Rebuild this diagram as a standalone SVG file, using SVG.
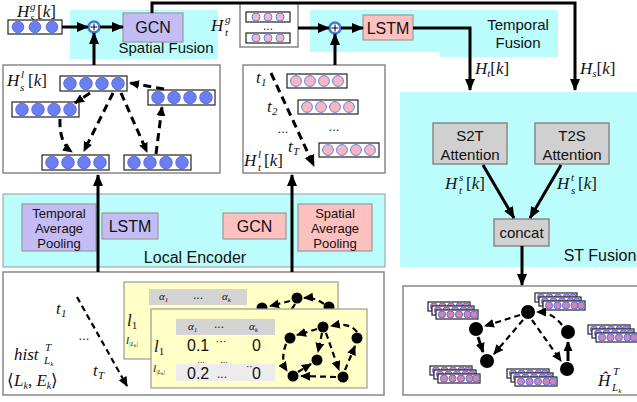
<svg xmlns="http://www.w3.org/2000/svg" xmlns:xlink="http://www.w3.org/1999/xlink" width="637" height="402" viewBox="0 0 637 402">
<style>
.sans{font-family:"Liberation Sans",Arial,sans-serif;fill:#111}
.m{font-family:"Liberation Serif","Times New Roman",serif;font-style:italic;font-size:17px;fill:#111}
.ms{font-family:"Liberation Serif","Times New Roman",serif;font-style:italic;font-size:11px;fill:#111}
.up{font-style:normal}
.frame{fill:#fff;stroke:#888;stroke-width:1.5}
.cyan{fill:#bbfdfd}
.blue{fill:#c4bcf4;stroke:#999;stroke-width:1.2}
.pink{fill:#ffc0c0;stroke:#999;stroke-width:1.2}
.gray{fill:#d0d0d0;stroke:#888;stroke-width:1.5}
.yel{fill:#ffffc6;stroke:#999;stroke-width:1.2}
.conn{fill:none;stroke:#000;stroke-width:3}
.dash{fill:none;stroke:#000;stroke-width:3;stroke-dasharray:8 5}
.dash2{fill:none;stroke:#000;stroke-width:2.2;stroke-dasharray:6 4}
.vr{fill:#fff;stroke:#222;stroke-width:1.2}
.bc{fill:#6b7ff0;stroke:#4a62d8;stroke-width:0.8}
.pc{fill:#f7b6c2;stroke:#5a86e6;stroke-width:1}
.mc{fill:#cf86b4;stroke:#5a6fe0;stroke-width:1}
</style>
<defs>
<marker id="ah" markerUnits="userSpaceOnUse" markerWidth="12" markerHeight="10" refX="11" refY="5" orient="auto"><path d="M0,0 L12,5 L0,10 z" fill="#000"/></marker>
<marker id="ahs" markerUnits="userSpaceOnUse" markerWidth="10" markerHeight="9" refX="9" refY="4.5" orient="auto"><path d="M0,0 L10,4.5 L0,9 z" fill="#000"/></marker>
<g id="bv4"><rect class="vr" x="0" y="0" width="67" height="15"/><circle class="bc" cx="10" cy="7.5" r="6.3"/><circle class="bc" cx="26" cy="7.5" r="6.3"/><circle class="bc" cx="42" cy="7.5" r="6.3"/><circle class="bc" cx="58" cy="7.5" r="6.3"/></g>
<g id="pv4"><rect class="vr" x="0" y="0" width="60" height="14"/><circle class="pc" cx="9" cy="7" r="5.4"/><circle class="pc" cx="23" cy="7" r="5.4"/><circle class="pc" cx="37" cy="7" r="5.4"/><circle class="pc" cx="51" cy="7" r="5.4"/></g>
<g id="pv3"><rect class="vr" x="0" y="0" width="44" height="10"/><circle class="pc" cx="10" cy="5" r="4"/><circle class="pc" cx="22" cy="5" r="4"/><circle class="pc" cx="34" cy="5" r="4"/></g>
<g id="sv"><rect class="vr" x="0" y="0" width="42" height="9"/><circle class="mc" cx="6" cy="4.5" r="3.6"/><circle class="mc" cx="14.5" cy="4.5" r="3.6"/><circle class="mc" cx="23" cy="4.5" r="3.6"/><circle class="mc" cx="31.5" cy="4.5" r="3.6"/><circle class="mc" cx="38" cy="4.5" r="3.6"/></g>
<g id="stk"><use xlink:href="#sv"/><use xlink:href="#sv" x="4" y="4"/><use xlink:href="#sv" x="8" y="8"/></g>
</defs>

<!-- regions -->
<g id="spatial-fusion"><rect class="cyan" x="70" y="10" width="148" height="49"/><text class="sans" x="166" y="53" font-size="15" text-anchor="middle">Spatial Fusion</text></g>
<g id="temporal-fusion"><rect class="cyan" x="310" y="10" width="248" height="42"/><rect class="cyan" x="440" y="10" width="118" height="47"/><text class="sans" x="518" y="30" font-size="15" text-anchor="middle">Temporal</text><text class="sans" x="518" y="48" font-size="15" text-anchor="middle">Fusion</text></g>
<g id="st-fusion"><rect class="cyan" x="400" y="92" width="237" height="175"/><text class="sans" x="600" y="261" font-size="16" text-anchor="middle">ST Fusion</text></g>
<g id="local-encoder"><rect x="3" y="194" width="382" height="73" fill="#bbfdfd" stroke="#999" stroke-width="1"/><text class="sans" x="195" y="263" font-size="16" text-anchor="middle">Local Encoder</text></g>

<!-- top-left input -->
<g id="hsg">
<text class="m" x="17" y="17">H</text><text class="ms" x="30" y="10">g</text><text class="ms" x="30" y="21">s</text><text class="m" x="37" y="17"><tspan class="up">[</tspan>k<tspan class="up">]</tspan></text>
<rect class="vr" x="8" y="20" width="54" height="14"/><circle class="bc" cx="18" cy="27" r="5.8"/><circle class="bc" cx="35" cy="27" r="5.8"/><circle class="bc" cx="52" cy="27" r="5.8"/>
</g>
<g id="plus1"><circle cx="94" cy="27" r="5.5" fill="#fff" stroke="#3c7ce0" stroke-width="2.5"/><path d="M90.5,27 H97.5 M94,23.5 V30.5" stroke="#000" stroke-width="1"/></g>
<g id="gcn-top"><rect class="blue" x="123" y="13" width="60" height="29"/><text class="sans" x="153" y="33" font-size="16" text-anchor="middle">GCN</text></g>

<g id="htg">
<text class="m" x="211" y="31">H</text><text class="ms" x="225" y="23">g</text><text class="ms" x="225" y="36">t</text>
<rect class="frame" x="240" y="3" width="58" height="44"/>
<use xlink:href="#pv3" x="246" y="12"/><text class="sans" x="268" y="30" font-size="12" text-anchor="middle">...</text><use xlink:href="#pv3" x="246" y="33"/>
</g>
<g id="plus2"><circle cx="335" cy="28" r="5.5" fill="#fff" stroke="#3c7ce0" stroke-width="2.5"/><path d="M331.5,28 H338.5 M335,24.5 V31.5" stroke="#000" stroke-width="1"/></g>
<g id="lstm-top"><rect class="pink" x="363" y="15" width="50" height="25"/><text class="sans" x="388" y="34" font-size="16" text-anchor="middle">LSTM</text></g>

<!-- spatial local box -->
<g id="hsl-box">
<rect class="frame" x="3" y="65" width="217" height="108"/>
<text class="m" x="7" y="86">H</text><text class="ms" x="21" y="78">l</text><text class="ms" x="20" y="91">s</text><text class="m" x="28" y="86"><tspan class="up">[</tspan>k<tspan class="up">]</tspan></text>
<use xlink:href="#bv4" x="60" y="76"/>
<use xlink:href="#bv4" x="12" y="102"/>
<use xlink:href="#bv4" x="148" y="90"/>
<use xlink:href="#bv4" x="42" y="155"/>
<use xlink:href="#bv4" x="124" y="155"/>
<path class="dash" d="M164,89 L130,83" marker-end="url(#ahs)"/>
<path class="dash" d="M90,93 L75,103" marker-end="url(#ahs)"/>
<path class="dash" d="M60,119 Q59,143 72,152" marker-end="url(#ahs)"/>
<path class="dash" d="M113,93 L84,151" marker-end="url(#ahs)"/>
<path class="dash" d="M121,93 L147,152" marker-end="url(#ahs)"/>
<path class="dash" d="M156,154 L162,107" marker-end="url(#ahs)"/>
</g>

<!-- temporal local box -->
<g id="htl-box">
<rect class="frame" x="243" y="65" width="142" height="108"/>
<text class="m" x="256" y="83">t</text><text class="ms" x="261" y="86">1</text>
<text class="m" x="267" y="112">t</text><text class="ms" x="272" y="115">2</text>
<text class="sans" x="283" y="133" font-size="13" text-anchor="middle">...</text>
<text class="sans" x="334" y="131" font-size="13" text-anchor="middle">...</text>
<text class="m" x="288" y="152">t</text><text class="ms" x="293" y="155">T</text>
<use xlink:href="#pv4" x="287" y="74"/>
<use xlink:href="#pv4" x="298" y="100"/>
<use xlink:href="#pv4" x="319" y="143"/>
<path class="dash" d="M271,73 L314,166" marker-end="url(#ah)"/>
<text class="m" x="244" y="166">H</text><text class="ms" x="258" y="158">l</text><text class="ms" x="258" y="171">t</text><text class="m" x="264" y="166"><tspan class="up">[</tspan>k<tspan class="up">]</tspan></text>
</g>

<!-- local encoder components -->
<g id="tap"><rect class="blue" x="22" y="204" width="74" height="47"/><text class="sans" font-size="13" text-anchor="middle"><tspan x="59" y="218">Temporal</tspan><tspan x="59" y="233">Average</tspan><tspan x="59" y="248">Pooling</tspan></text></g>
<g id="lstm-enc"><rect class="blue" x="102" y="213" width="56" height="26"/><text class="sans" x="130" y="232" font-size="16" text-anchor="middle">LSTM</text></g>
<g id="gcn-enc"><rect class="pink" x="223" y="213" width="63" height="26"/><text class="sans" x="254.5" y="232" font-size="16" text-anchor="middle">GCN</text></g>
<g id="sap"><rect class="pink" x="298" y="204" width="74" height="47"/><text class="sans" font-size="13" text-anchor="middle"><tspan x="335" y="218">Spatial</tspan><tspan x="335" y="233">Average</tspan><tspan x="335" y="248">Pooling</tspan></text></g>

<!-- bottom input -->
<g id="hist-box">
<rect class="frame" x="3" y="272" width="381" height="123"/>
<text class="m" x="56" y="314">t</text><text class="ms" x="61" y="317">1</text>
<text class="sans" x="84" y="340" font-size="13" text-anchor="middle">...</text>
<text class="m" x="93" y="376">t</text><text class="ms" x="98" y="379">T</text>
<path class="dash2" d="M77,297 L127,386" marker-end="url(#ahs)"/>
<text class="m" x="14" y="360">hist</text><text class="ms" x="45" y="351">T</text><text class="ms" x="44" y="364">L<tspan font-size="7" dy="2">k</tspan></text>
<text class="m" x="7" y="386"><tspan class="up">⟨</tspan>L<tspan font-size="10" dy="3">k</tspan><tspan dy="-3" class="up">,</tspan> E<tspan font-size="10" dy="3">k</tspan><tspan dy="-3" class="up">⟩</tspan></text>
</g>
<g id="card-back">
<rect class="yel" x="124" y="282" width="214" height="77"/>
<rect x="149" y="289" width="98" height="16" fill="#d4d4d4"/>
<text class="ms" x="159" y="300" font-size="10">α<tspan font-size="7" dy="2">1</tspan></text>
<text class="sans" x="198" y="299" font-size="12" text-anchor="middle">...</text>
<text class="ms" x="222" y="300" font-size="10">α<tspan font-size="7" dy="2">k</tspan></text>
<text class="m" x="127" y="326" font-size="18">l<tspan font-size="11" dy="3" class="up">1</tspan></text>
<text class="ms" x="126" y="344" font-size="9">l<tspan font-size="6" dy="2">|L</tspan><tspan font-size="5" dy="1">k</tspan><tspan font-size="6" dy="-1">|</tspan></text>
<path class="dash2" d="M290,301 L270,306" marker-end="url(#ahs)"/>
<path class="dash2" d="M324,304 Q315,297 304,298" marker-end="url(#ahs)"/>
<path class="dash2" d="M295,304 L290,312"/>
<circle cx="297" cy="298" r="5.5"/><circle cx="262" cy="308" r="5.5"/><circle cx="329" cy="307" r="5.5"/>
</g>
<g id="card-front">
<rect class="yel" x="151" y="309" width="216" height="79"/>
<rect x="176" y="319" width="99" height="16" fill="#d4d4d4"/>
<rect x="176" y="364" width="99" height="17" fill="#ececec"/>
<text class="ms" x="188" y="330" font-size="10">α<tspan font-size="7" dy="2">1</tspan></text>
<text class="sans" x="219" y="328" font-size="12" text-anchor="middle">...</text>
<text class="ms" x="249" y="330" font-size="10">α<tspan font-size="7" dy="2">k</tspan></text>
<text class="m" x="154" y="352" font-size="18">l<tspan font-size="11" dy="3" class="up">1</tspan></text>
<text class="sans" x="187" y="351" font-size="16">0.1</text>
<text class="sans" x="221" y="345" font-size="11" text-anchor="middle">···</text>
<text class="sans" x="252" y="351" font-size="16">0</text>
<text class="sans" x="201" y="363" font-size="9" text-anchor="middle">...</text>
<text class="sans" x="224" y="363" font-size="9" text-anchor="middle">...</text>
<text class="ms" x="153" y="372" font-size="9">l<tspan font-size="6" dy="2">|L</tspan><tspan font-size="5" dy="1">k</tspan><tspan font-size="6" dy="-1">|</tspan></text>
<text class="sans" x="187" y="379" font-size="16">0.2</text>
<text class="sans" x="222" y="378" font-size="12" text-anchor="middle">...</text>
<text class="sans" x="246" y="370" font-size="10">··</text>
<text class="sans" x="252" y="379" font-size="16">0</text>
<path class="dash2" d="M317,329 L297,335" marker-end="url(#ahs)"/>
<path class="dash2" d="M357,332 Q350,322 331,326" marker-end="url(#ahs)"/>
<path class="dash2" d="M322,333 L318,352" marker-end="url(#ahs)"/>
<path class="dash2" d="M326,333 L339,370" marker-end="url(#ahs)"/>
<path class="dash2" d="M286,344 Q280,360 287,371" marker-end="url(#ahs)"/>
<path class="dash2" d="M298,372 L311,364" marker-end="url(#ahs)"/>
<path class="dash2" d="M336,377 L301,376" marker-end="url(#ahs)"/>
<path class="dash2" d="M345,370 L355,346" marker-end="url(#ahs)"/>
<circle cx="323" cy="327" r="5.5"/><circle cx="290" cy="338" r="5.5"/><circle cx="357" cy="338" r="5.5"/>
<circle cx="317" cy="360" r="5.5"/><circle cx="293" cy="376" r="5.5"/><circle cx="343" cy="377" r="5.5"/>
</g>

<!-- ST fusion components -->
<g id="s2t"><rect class="gray" x="433" y="123" width="74" height="41"/><text class="sans" font-size="15" text-anchor="middle"><tspan x="470" y="141">S2T</tspan><tspan x="470" y="160">Attention</tspan></text></g>
<g id="t2s"><rect class="gray" x="535" y="123" width="74" height="41"/><text class="sans" font-size="15" text-anchor="middle"><tspan x="572" y="141">T2S</tspan><tspan x="572" y="160">Attention</tspan></text></g>
<g id="concat"><rect class="gray" x="494" y="219" width="55" height="27"/><text class="sans" x="521.5" y="238" font-size="15" text-anchor="middle">concat</text></g>

<!-- output box -->
<g id="output-box">
<rect class="frame" x="403" y="286" width="240" height="109"/>
<use xlink:href="#stk" x="428" y="302"/>
<use xlink:href="#stk" x="535" y="293"/>
<use xlink:href="#stk" x="588" y="325"/>
<use xlink:href="#stk" x="430" y="366"/>
<use xlink:href="#stk" x="507" y="369"/>
<path class="dash2" d="M520,315 L485,326" marker-end="url(#ahs)"/>
<path class="conn" d="M478,337 L483,352" stroke-width="2.5" marker-end="url(#ahs)"/>
<path class="dash2" d="M523,320 L494,354" marker-end="url(#ahs)"/>
<path class="dash2" d="M532,320 L561,361" marker-end="url(#ahs)"/>
<path class="dash2" d="M562,325 Q552,312 537,312" marker-end="url(#ahs)"/>
<path class="conn" d="M568,361 L568,342" stroke-width="2.5" marker-end="url(#ahs)"/>
<circle cx="528" cy="312" r="7"/><circle cx="476" cy="329" r="7"/><circle cx="487" cy="361" r="7"/><circle cx="568" cy="332" r="7"/><circle cx="567" cy="369" r="7"/>
<text class="m" x="598" y="386">Ĥ</text><text class="ms" x="613" y="375">T</text><text class="ms" x="612" y="391">L<tspan font-size="7" dy="2">k</tspan></text>
</g>

<!-- connectors -->
<g id="connectors">
<path class="conn" d="M62,27 L88,27" marker-end="url(#ah)"/>
<path class="conn" d="M100,27 L123,27" marker-end="url(#ah)"/>
<path class="conn" d="M94,65 L94,33" marker-end="url(#ah)"/>
<path class="conn" d="M152,13 V3 H575 V90" marker-end="url(#ah)"/>
<path class="conn" d="M298,28 L329,28" marker-end="url(#ah)"/>
<path class="conn" d="M341,28 L363,28" marker-end="url(#ah)"/>
<path class="conn" d="M335,65 L335,34" marker-end="url(#ah)"/>
<path class="conn" d="M413,28 H470 V90" marker-end="url(#ah)"/>
<path class="conn" d="M98,272 L98,175" marker-end="url(#ah)"/>
<path class="conn" d="M292,272 L292,175" marker-end="url(#ah)"/>
<path class="conn" d="M483,165 L514,218" marker-end="url(#ah)"/>
<path class="conn" d="M561,165 L530,218" marker-end="url(#ah)"/>
<path class="conn" d="M522,246 L522,285" marker-end="url(#ah)"/>
<text class="m" x="475" y="74">H<tspan font-size="11" dy="3">t</tspan><tspan dy="-3" class="up">[</tspan>k<tspan class="up">]</tspan></text>
<text class="m" x="580" y="74">H<tspan font-size="11" dy="3">s</tspan><tspan dy="-3" class="up">[</tspan>k<tspan class="up">]</tspan></text>
<text class="m" x="445" y="189">H</text><text class="ms" x="459" y="181">s</text><text class="ms" x="459" y="194">t</text><text class="m" x="466" y="189"><tspan class="up">[</tspan>k<tspan class="up">]</tspan></text>
<text class="m" x="557" y="189">H</text><text class="ms" x="571" y="181">t</text><text class="ms" x="571" y="194">s</text><text class="m" x="578" y="189"><tspan class="up">[</tspan>k<tspan class="up">]</tspan></text>
</g>
</svg>
